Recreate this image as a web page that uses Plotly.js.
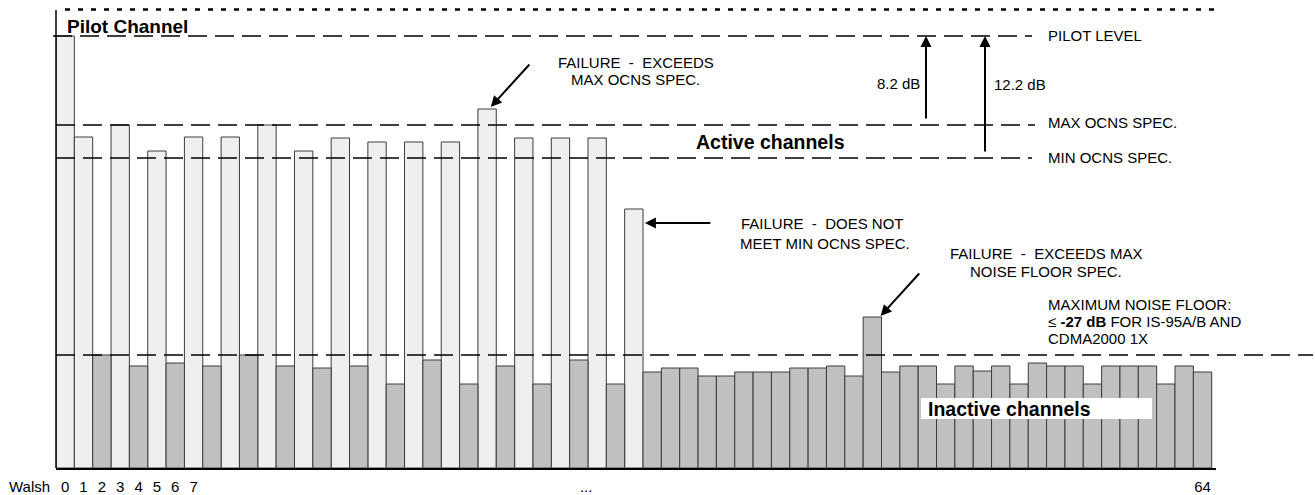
<!DOCTYPE html>
<html><head><meta charset="utf-8">
<script src="https://cdn.plot.ly/plotly-3.0.1.min.js"></script>
<style>html,body{margin:0;padding:0;background:#fff}#chart{width:1315px;height:495px}</style>
</head><body><div id="chart"></div>
<script>
// ---- data (relative level units; baseline = 0) ----
const activeWalsh  = [0, 1, 3, 5, 7, 9, 11, 13, 15, 17, 19, 21, 23, 25, 27, 29, 31];
const activeLevels = [43.2, 33.1, 34.3, 31.7, 33.1, 33.1, 34.3, 31.7, 33.0, 32.6, 32.6, 32.6, 35.9, 33.0, 33.0, 33.0, 25.9];

const inactiveWalsh  = [2, 4, 6, 8, 10, 12, 14, 16, 18, 20, 22, 24, 26, 28, 30,
                        32, 33, 34, 35, 36, 37, 38, 39, 40, 41, 42, 43, 44, 45, 46, 47,
                        48, 49, 50, 51, 52, 53, 54, 55, 56, 57, 58, 59, 60, 61, 62];
const inactiveLevels = [11.3, 10.2, 10.5, 10.2, 11.3, 10.2, 10.0, 10.2, 8.4, 10.8, 8.4, 10.2, 8.4, 10.8, 8.4,
                        9.6, 10.0, 10.0, 9.2, 9.2, 9.6, 9.6, 9.6, 10.0, 10.0, 10.2, 9.2, 15.1, 9.6, 10.2, 10.2,
                        8.4, 10.2, 9.7, 10.2, 8.4, 10.5, 10.2, 10.2, 8.4, 10.2, 10.2, 10.2, 8.4, 10.2, 9.6];

const pilotLevel = 43.2, maxOcnsLevel = 34.3, minOcnsLevel = 31.0, noiseFloorLevel = 11.3, frameTopLevel = 45.85;

const tickWalsh = [0, 1, 2, 3, 4, 5, 6, 7, 28.4, 62];
const tickText  = ['0', '1', '2', '3', '4', '5', '6', '7', '...', '64'];

// ---- layout helpers (pixel -> paper) ----
const W = 1315, H = 495, ML = 56, MR = 99, MT = 5, MB = 27;
const PW = W - ML - MR, PH = H - MT - MB;
const px = x => (x - ML) / PW;
const py = y => (H - MB - y) / PH;

const FONT = 'Liberation Sans, Arial, Helvetica, sans-serif';
const black = '#000';

const traces = [
  { type: 'bar', x: activeWalsh, y: activeLevels, width: 1,
    marker: { color: '#efefef', line: { color: '#3c3c3c', width: 1 } }, hoverinfo: 'x+y' },
  { type: 'bar', x: inactiveWalsh, y: inactiveLevels, width: 1,
    marker: { color: '#c0c0c0', line: { color: '#3c3c3c', width: 1 } }, hoverinfo: 'x+y' }
];

const dash = '19px,8px';
const hline = (x0, x1, lvl) => ({ type: 'line', xref: 'paper', yref: 'y', x0: px(x0), x1: px(x1), y0: lvl, y1: lvl,
  line: { color: black, width: 1.3, dash: dash } });

const shapes = [
  { type: 'line', xref: 'paper', yref: 'y', x0: 0, x1: 0, y0: 0, y1: 45.8, line: { color: black, width: 1.5 } },
  { type: 'line', xref: 'paper', yref: 'y', x0: px(65), x1: px(1217), y0: frameTopLevel, y1: frameTopLevel,
    line: { color: black, width: 2.5, dash: '5px,8px' } },
  hline(53, 1032, pilotLevel),
  hline(56, 1035, maxOcnsLevel),
  hline(56, 1032, minOcnsLevel),
  hline(56, 1313, noiseFloorLevel),
  { type: 'rect', xref: 'paper', yref: 'paper', x0: px(921), x1: px(1152), y0: py(419), y1: py(398),
    fillcolor: '#fff', line: { width: 0 }, layer: 'above' }
];

const T = (text, x, y, anchor, size, bold) => ({
  text: bold ? '<b>' + text + '</b>' : text, xref: 'paper', yref: 'paper', x: px(x), y: py(y),
  xanchor: anchor, yanchor: 'middle', showarrow: false, borderpad: 0,
  font: { family: FONT, size: size || 15, color: black }
});
const sp = ' \u00a0';

const annotations = [
  T('Pilot Channel', 66, 26, 'left', 19, true),
  T('FAILURE' + sp + '-' + sp + 'EXCEEDS', 635.5, 62.5, 'center'),
  T('MAX OCNS SPEC.', 635, 80, 'center'),
  T('8.2 dB', 921, 83.5, 'right'),
  T('12.2 dB', 993, 84, 'left'),
  T('PILOT LEVEL', 1047, 35, 'left'),
  T('MAX OCNS SPEC.', 1047, 123, 'left'),
  T('MIN OCNS SPEC.', 1047, 158, 'left'),
  T('Active channels', 770, 142, 'center', 19.5, true),
  T('FAILURE' + sp + '-' + sp + 'DOES NOT', 822.5, 223, 'center'),
  T('MEET MIN OCNS SPEC.', 824.5, 243, 'center'),
  T('FAILURE' + sp + '-' + sp + 'EXCEEDS MAX', 1046, 254, 'center'),
  T('NOISE FLOOR SPEC.', 1046, 271, 'center'),
  T('MAXIMUM NOISE FLOOR:', 1047, 304, 'left'),
  T('\u2264 <b>-27 dB</b> FOR IS-95A/B AND', 1047, 321, 'left'),
  T('CDMA2000 1X', 1047, 338, 'left'),
  T('Inactive channels', 927, 409, 'left', 19.5, true),
  T('Walsh', 51, 487, 'right'),
  // arrows pointing at failing bars
  { text: '', xref: 'x', yref: 'y', x: 23.2, y: activeLevels[activeWalsh.indexOf(23)] + 0.2,
    ax: 40, ay: -44, showarrow: true, arrowhead: 2, arrowwidth: 2, arrowsize: 1.1, arrowcolor: black },
  { text: '', xref: 'x', yref: 'y', x: 31.6, y: activeLevels[activeWalsh.indexOf(31)] - 1.4,
    ax: 67, ay: 0, showarrow: true, arrowhead: 2, arrowwidth: 2, arrowsize: 1.1, arrowcolor: black },
  { text: '', xref: 'x', yref: 'y', x: 44.45, y: inactiveLevels[inactiveWalsh.indexOf(44)] + 0.1,
    ax: 40, ay: -44, showarrow: true, arrowhead: 2, arrowwidth: 2, arrowsize: 1.1, arrowcolor: black },
  // level-difference arrows
  { text: '', xref: 'paper', yref: 'y', x: px(926), y: pilotLevel, axref: 'pixel', ax: 0, ayref: 'y', ay: maxOcnsLevel + 0.5,
    showarrow: true, arrowhead: 2, arrowwidth: 2, arrowsize: 1.1, arrowcolor: black },
  { text: '', xref: 'paper', yref: 'y', x: px(985), y: pilotLevel, axref: 'pixel', ax: 0, ayref: 'y', ay: minOcnsLevel + 0.5,
    showarrow: true, arrowhead: 2, arrowwidth: 2, arrowsize: 1.1, arrowcolor: black }
];

const layout = {
  width: W, height: H,
  margin: { l: ML, r: MR, t: MT, b: MB, pad: 0 },
  paper_bgcolor: '#fff', plot_bgcolor: '#fff',
  showlegend: false, barmode: 'overlay', bargap: 0,
  font: { family: FONT, size: 15, color: black },
  xaxis: { range: [-0.5, -0.5 + PW / ((1211.7 - ML) / 63)], showgrid: false, zeroline: false,
    showline: true, linecolor: black, linewidth: 1.5, ticks: '', ticklabelstandoff: 4,
    tickmode: 'array', tickvals: tickWalsh, ticktext: tickText,
    tickfont: { family: FONT, size: 15, color: black }, fixedrange: true },
  yaxis: { range: [0, PH / 10], showgrid: false, zeroline: false, showline: false,
    showticklabels: false, ticks: '', fixedrange: true },
  shapes: shapes,
  annotations: annotations
};

Plotly.newPlot('chart', traces, layout, { displayModeBar: false, staticPlot: true });
</script>
</body></html>
